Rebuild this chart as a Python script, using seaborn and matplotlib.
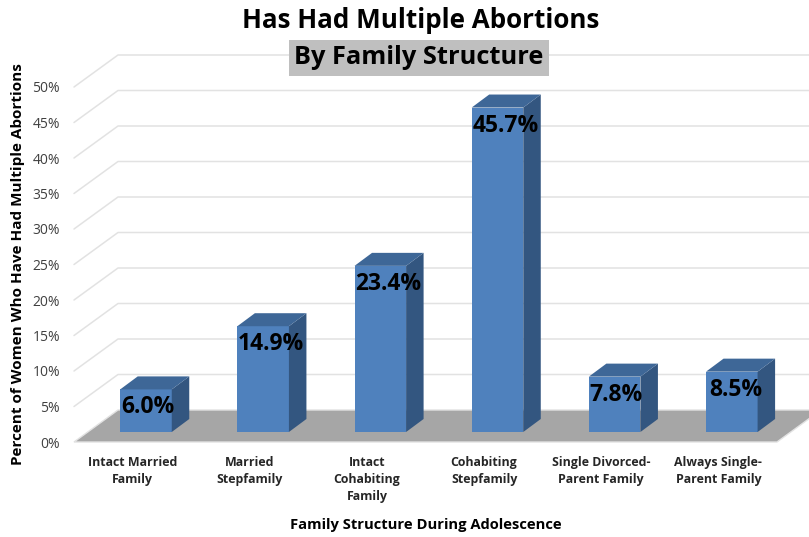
import pandas as pd
import matplotlib.pyplot as plt
from matplotlib.patches import Polygon
import seaborn as sns

# Dados
familias = ['Intact Married\nFamily', 'Married\nStepfamily', 'Intact\nCohabiting\nFamily',
            'Cohabiting\nStepfamily', 'Single Divorced-\nParent Family', 'Always Single-\nParent Family']
valores = [6.0, 14.9, 23.4, 45.7, 7.8, 8.5]
marcas_y = [0, 5, 10, 15, 20, 25, 30, 35, 40, 45, 50]

# Ajuste horizontal de cada rotulo, em pixels
ajuste_rotulo = [2, 8, 8, 8, 1, 4]

W, H = 809, 537
sns.set_style('white')
plt.rcParams['font.family'] = ['Open Sans', 'DejaVu Sans']

fig = plt.figure(figsize=(W / 100, H / 100), dpi=100)


def caixa(x0, x1, y0, y1):
    # converte pixels da imagem para fracao da figura
    return [x0 / W, 1 - y0 / H, (x1 - x0) / W, (y0 - y1) / H]


# Eixo de fundo: paredes, chao e rotulos
fundo = fig.add_axes(caixa(74, 777, 442, 87))
fundo.set_xlim(-0.5, 5.5)
fundo.set_ylim(0, 50)
prof_x, prof_y = 44 / 117.17, 32 / 7.1

for v in marcas_y[1:]:
    fundo.plot([-0.5, -0.5 + prof_x, 5.5 + prof_x], [v, v + prof_y, v + prof_y],
               color='#E2E2E2', lw=1.1, clip_on=False, zorder=1)

fundo.add_patch(Polygon([(-0.5, 0), (-0.5 + prof_x, prof_y), (5.5 + prof_x, prof_y), (5.5, 0)],
                        closed=True, fc='#A6A6A6', ec='#E2E2E2', lw=1, clip_on=False, zorder=2))

fundo.set_xticks(range(len(familias)))
fundo.set_xticklabels(familias, fontsize=8.9, fontweight='bold', color='#262626', linespacing=1.4)
fundo.set_yticks(marcas_y)
fundo.set_yticklabels([f'{v}%' for v in marcas_y], fontsize=10, color='#404040')
fundo.tick_params(axis='x', length=0, pad=10)
fundo.tick_params(axis='y', length=0, pad=10)
sns.despine(ax=fundo, left=True, bottom=True, top=True, right=True)

# Eixo das barras, deslocado para dentro do chao
eixo = fig.add_axes(caixa(87.4, 790.4, 432, 77))
eixo.patch.set_alpha(0)
tabela = pd.DataFrame({'familia': familias, 'valor': valores})
sns.barplot(data=tabela, x='familia', y='valor', color='#4F81BD', saturation=1, width=0.44,
            edgecolor='none', linewidth=0, ax=eixo, zorder=3)
eixo.set_ylim(0, 50)
eixo.set_xlim(-0.5, 5.5)
eixo.axis('off')

barra_x, barra_y = 17.5 / 117.17, 13 / 7.1
for barra, valor, ajuste in zip(eixo.patches, valores, ajuste_rotulo):
    x0, x1 = barra.get_x(), barra.get_x() + barra.get_width()
    eixo.add_patch(Polygon([(x1, 0), (x1 + barra_x, barra_y), (x1 + barra_x, valor + barra_y), (x1, valor)],
                           closed=True, fc='#335680', ec='none', clip_on=False, zorder=3))
    eixo.add_patch(Polygon([(x0, valor), (x0 + barra_x, valor + barra_y), (x1 + barra_x, valor + barra_y), (x1, valor)],
                           closed=True, fc='#3E6797', ec='none', clip_on=False, zorder=3))
    eixo.annotate(f'{valor:.1f}%', xy=((x0 + x1) / 2, valor), xytext=(ajuste * 0.72, -18 * 0.72),
                  textcoords='offset points', ha='center', va='center', fontsize=16.5,
                  fontweight='bold', color='black', zorder=5, annotation_clip=False)

# Titulos
fig.text(420.5 / W, 1 - 20 / H, 'Has Had Multiple Abortions', ha='center', va='center',
         fontsize=18.7, fontweight='bold', color='black')
fig.text(419 / W, 1 - 58 / H, 'By Family Structure', ha='center', va='center', fontsize=18.3,
         fontweight='bold', color='black', bbox=dict(fc='#BFBFBF', ec='none', pad=3.8))
fig.text(426 / W, 1 - 525 / H, 'Family Structure During Adolescence', ha='center', va='center',
         fontsize=10.6, fontweight='bold', color='black')
fig.text(18 / W, 1 - 264.5 / H, 'Percent of Women Who Have Had Multiple Abortions', ha='center', va='center',
         rotation=90, fontsize=11, fontweight='bold', color='black')

fig.savefig('out.png', dpi=100, facecolor='white')
